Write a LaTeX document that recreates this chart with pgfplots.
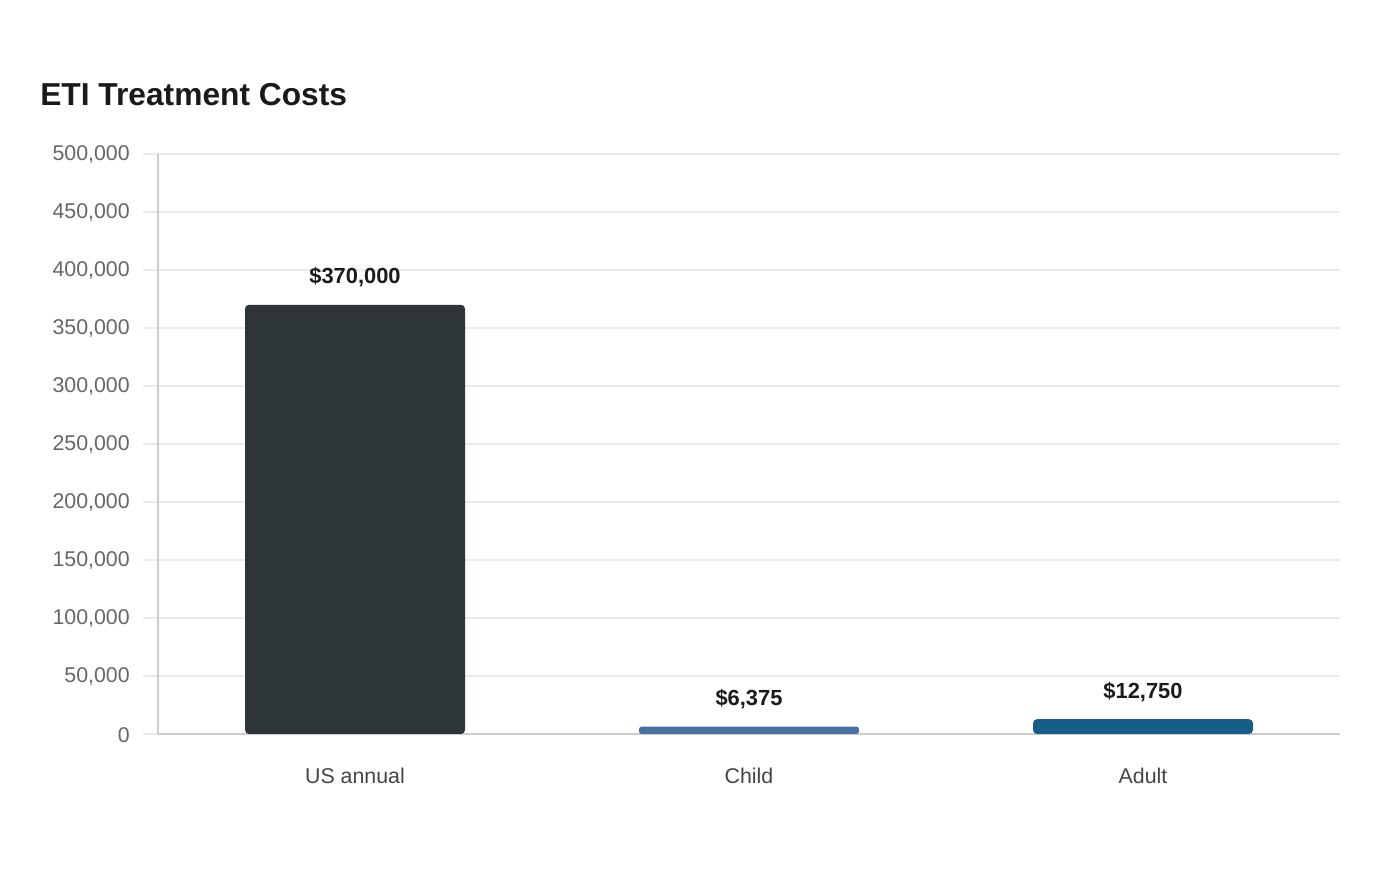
\documentclass[border=0pt]{standalone}
\usepackage{pgfplots}
\pgfplotsset{compat=1.18}
\usepackage{fontspec}
\setmainfont{Liberation Sans}
\definecolor{barA}{HTML}{2E3537}
\definecolor{barB}{HTML}{4A6FA5}
\definecolor{barC}{HTML}{175E87}
\definecolor{gridc}{HTML}{EBEBEB}
\definecolor{axisc}{HTML}{CCCCCC}
\definecolor{ytc}{HTML}{666666}
\definecolor{xtc}{HTML}{444444}
\definecolor{titc}{HTML}{1A1A1A}
\begin{document}
\begin{tikzpicture}
\path[use as bounding box] (0,0) rectangle (1050pt,660pt);
\node[anchor=base west, inner sep=0pt, font=\bfseries\fontsize{23.8}{28}\selectfont, text=titc] at (30pt,580.5pt) {ETI Treatment Costs};
\begin{axis}[
  at={(118.5pt,109.5pt)}, anchor=south west,
  scale only axis, width=886.5pt, height=435pt,
  xmin=-0.5, xmax=2.5, ymin=0, ymax=500000,
  xtick={0,1,2}, xticklabels={US annual,Child,Adult},
  ytick={0,50000,100000,150000,200000,250000,300000,350000,400000,450000,500000},
  yticklabels={0,{50,000},{100,000},{150,000},{200,000},{250,000},{300,000},{350,000},{400,000},{450,000},{500,000}},
  scaled y ticks=false,
  yticklabel style={font=\fontsize{16}{19}\selectfont, text=ytc, inner sep=0pt, xshift=-10pt, yshift=-0.5pt},
  xticklabel style={font=\fontsize{16}{19}\selectfont, text=xtc, inner sep=0pt, yshift=-14pt},
  axis x line*=bottom, axis y line*=left,
  axis line style={axisc, line width=0.9pt},
  x axis line style={-}, y axis line style={-},
  major x tick style={draw=none},
  major y tick style={gridc, line width=0.9pt},
  tick align=outside, major tick length=11pt,
  ymajorgrids, grid style={gridc, line width=0.9pt},
  ybar, bar width=165pt, bar shift=0pt,
  point meta=explicit symbolic,
  nodes near coords,
  every node near coord/.append style={font=\bfseries\fontsize{16.4}{19}\selectfont, text=titc, anchor=base, inner sep=0pt, yshift=15.75pt},
]
\addplot[fill=barA, draw=none, rounded corners=3pt] coordinates {(0,370000) [\$370,000]};
\addplot[fill=barB, draw=none, rounded corners=2pt] coordinates {(1,6375) [\$6,375]};
\addplot[fill=barC, draw=none, rounded corners=3pt] coordinates {(2,12750) [\$12,750]};
\end{axis}
\end{tikzpicture}
\end{document}
